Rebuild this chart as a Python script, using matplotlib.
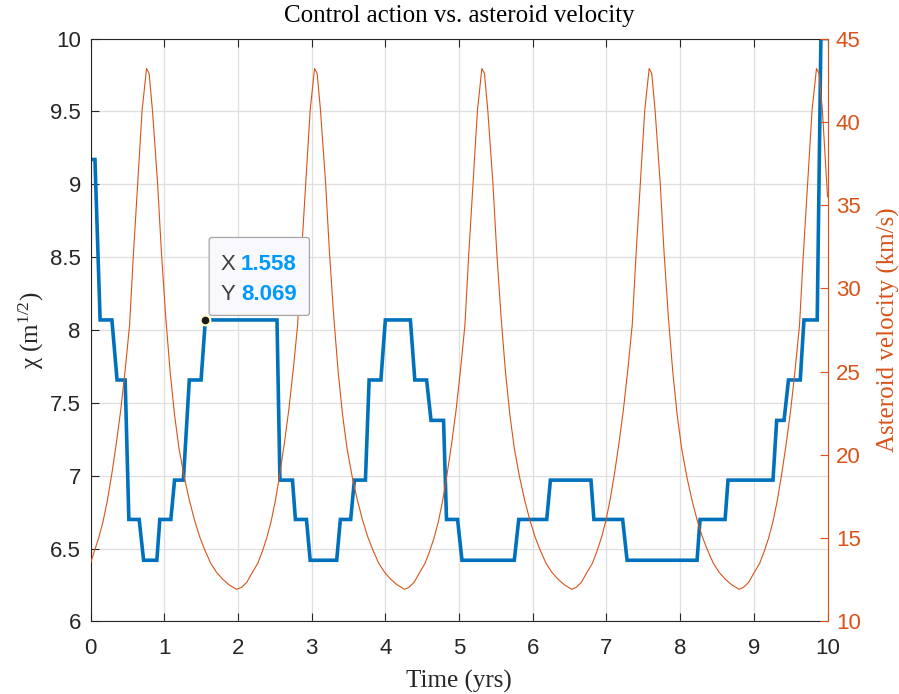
import matplotlib
matplotlib.use('Agg')
import matplotlib.pyplot as plt
from matplotlib.patches import FancyBboxPatch

# control action (blue, left axis)
t_chi = [0.0, 0.06, 0.13, 0.29, 0.36, 0.47, 0.52, 0.66, 0.72, 0.90,
         0.94, 1.09, 1.14, 1.26, 1.34, 1.50, 1.558, 2.53, 2.57, 2.74,
         2.78, 2.93, 2.98, 3.34, 3.39, 3.53, 3.58, 3.73, 3.78, 3.94,
         4.00, 4.34, 4.40, 4.56, 4.62, 4.79, 4.83, 4.98, 5.04, 5.75,
         5.81, 6.19, 6.24, 6.79, 6.83, 7.22, 7.28, 8.23, 8.27, 8.61,
         8.65, 9.26, 9.31, 9.41, 9.47, 9.63, 9.68, 9.86, 9.91, 10.0]
chi = [9.17, 9.17, 8.069, 8.069, 7.657, 7.657, 6.70, 6.70, 6.42, 6.42,
       6.70, 6.70, 6.97, 6.97, 7.657, 7.657, 8.069, 8.069, 6.97, 6.97,
       6.70, 6.70, 6.42, 6.42, 6.70, 6.70, 6.97, 6.97, 7.657, 7.657,
       8.069, 8.069, 7.657, 7.657, 7.38, 7.38, 6.70, 6.70, 6.42, 6.42,
       6.70, 6.70, 6.97, 6.97, 6.70, 6.70, 6.42, 6.42, 6.70, 6.70,
       6.97, 6.97, 7.38, 7.38, 7.657, 7.657, 8.069, 8.069, 10.0, 10.0]

# asteroid velocity (orange, right axis), km/s
t_vel = [0.00, 0.05, 0.11, 0.17, 0.23, 0.29, 0.35, 0.41, 0.47, 0.53,
         0.58, 0.64, 0.70, 0.76, 0.795, 0.84, 0.91, 0.96, 1.02, 1.08,
         1.14, 1.20, 1.27, 1.34, 1.41, 1.48, 1.55, 1.63, 1.71, 1.79,
         1.88, 1.98,
         2.05, 2.12, 2.19, 2.27, 2.33, 2.39, 2.45, 2.51, 2.57, 2.63,
         2.69, 2.75, 2.81, 2.86, 2.92, 2.98, 3.04, 3.075, 3.12, 3.19,
         3.24, 3.30, 3.36, 3.42, 3.48, 3.55, 3.62, 3.69, 3.76, 3.83,
         3.91, 3.99, 4.07, 4.16, 4.26,
         4.32, 4.39, 4.46, 4.54, 4.60, 4.66, 4.72, 4.78, 4.84, 4.90,
         4.96, 5.02, 5.08, 5.13, 5.19, 5.25, 5.31, 5.345, 5.39, 5.46,
         5.51, 5.57, 5.63, 5.69, 5.75, 5.82, 5.89, 5.96, 6.03, 6.10,
         6.18, 6.26, 6.34, 6.43, 6.53,
         6.59, 6.66, 6.73, 6.81, 6.87, 6.93, 6.99, 7.05, 7.11, 7.17,
         7.23, 7.29, 7.35, 7.40, 7.46, 7.52, 7.58, 7.615, 7.66, 7.73,
         7.78, 7.84, 7.90, 7.96, 8.02, 8.09, 8.16, 8.23, 8.30, 8.37,
         8.45, 8.53, 8.61, 8.70, 8.80,
         8.86, 8.93, 9.00, 9.08, 9.14, 9.20, 9.26, 9.32, 9.38, 9.44,
         9.50, 9.56, 9.62, 9.67, 9.73, 9.79, 9.85, 9.885, 9.93, 10.00]
vel = [13.5, 14.2, 15.0, 16.0, 17.3, 18.9, 20.7, 22.7, 25.1, 27.8,
       31.9, 36.3, 40.7, 43.2, 42.9, 40.7, 36.3, 32.3, 28.3, 25.0,
       22.4, 20.4, 18.7, 17.3, 16.1, 15.1, 14.3, 13.5, 12.95, 12.55,
       12.2, 11.93,
       12.05, 12.35, 12.9, 13.5, 14.2, 15.0, 16.0, 17.3, 18.9, 20.7,
       22.7, 25.1, 27.8, 31.9, 36.3, 40.7, 43.2, 42.9, 40.7, 36.3,
       32.3, 28.3, 25.0, 22.4, 20.4, 18.7, 17.3, 16.1, 15.1, 14.3,
       13.5, 12.95, 12.55, 12.2, 11.93,
       12.05, 12.35, 12.9, 13.5, 14.2, 15.0, 16.0, 17.3, 18.9, 20.7,
       22.7, 25.1, 27.8, 31.9, 36.3, 40.7, 43.2, 42.9, 40.7, 36.3,
       32.3, 28.3, 25.0, 22.4, 20.4, 18.7, 17.3, 16.1, 15.1, 14.3,
       13.5, 12.95, 12.55, 12.2, 11.93,
       12.05, 12.35, 12.9, 13.5, 14.2, 15.0, 16.0, 17.3, 18.9, 20.7,
       22.7, 25.1, 27.8, 31.9, 36.3, 40.7, 43.2, 42.9, 40.7, 36.3,
       32.3, 28.3, 25.0, 22.4, 20.4, 18.7, 17.3, 16.1, 15.1, 14.3,
       13.5, 12.95, 12.55, 12.2, 11.93,
       12.05, 12.35, 12.9, 13.5, 14.2, 15.0, 16.0, 17.3, 18.9, 20.7,
       22.7, 25.1, 27.8, 31.9, 36.3, 40.7, 43.2, 42.9, 40.7, 35.5]

x_ticks = list(range(0, 11))
chi_ticks = [6, 6.5, 7, 7.5, 8, 8.5, 9, 9.5, 10]
vel_ticks = [10, 15, 20, 25, 30, 35, 40, 45]
tip_t, tip_chi = 1.558, 8.069

blue = '#0072BD'
orange = '#D95319'
dark = '#262626'
sans = 'Liberation Sans'
serif = 'Liberation Serif'

plt.rcParams['mathtext.fontset'] = 'custom'
plt.rcParams['mathtext.rm'] = serif
plt.rcParams['mathtext.it'] = serif + ':italic'

fig = plt.figure(figsize=(8.99, 6.94), dpi=100)
ax = fig.add_axes([0.1007, 0.1045, 0.8198, 0.84])
ax2 = ax.twinx()

ax.plot(t_chi, chi, color=blue, lw=2.6, solid_joinstyle='miter')
ax2.plot(t_vel, vel, color=orange, lw=0.8)

ax.set_xlim(0, 10)
ax.set_ylim(6, 10)
ax2.set_ylim(10, 45)
ax.set_xticks(x_ticks)
ax.set_yticks(chi_ticks)
ax.set_yticklabels([f'{v:g}' for v in chi_ticks])
ax2.set_yticks(vel_ticks)

ax.grid(True, color='#dfdfdf', lw=0.9)
ax.set_axisbelow(True)

ax.tick_params(axis='both', direction='in', length=6, width=0.8, colors=dark,
               labelsize=16, top=True, right=False)
ax.tick_params(axis='x', pad=12)
ax.tick_params(axis='y', pad=7)
ax2.tick_params(axis='y', direction='in', length=6, width=0.8, colors=orange,
                labelsize=16, pad=6)
for lab in ax.get_xticklabels() + ax.get_yticklabels() + ax2.get_yticklabels():
    lab.set_fontfamily(sans)

for side in ['left', 'top', 'bottom']:
    ax.spines[side].set_color(dark)
    ax.spines[side].set_linewidth(0.8)
ax.spines['right'].set_visible(False)
for side in ['left', 'top', 'bottom']:
    ax2.spines[side].set_visible(False)
ax2.spines['right'].set_color(orange)
ax2.spines['right'].set_linewidth(0.8)

ax.set_title('Control action vs. asteroid velocity', fontfamily=serif,
             fontsize=18, color='black', pad=12)
ax.set_xlabel('Time (yrs)', fontfamily=serif, fontsize=18, color=dark, labelpad=8)
ax.set_ylabel(r'χ (m$^{1/2}$)', fontfamily=serif, fontsize=18, color=dark, labelpad=3)
ax2.set_ylabel('Asteroid velocity (km/s)', fontfamily=serif, fontsize=18,
               color=orange, labelpad=12)

# datatip, drawn on top of both lines
ax2.plot([tip_t], [tip_chi], 'o', transform=ax.transData, ms=7,
         mfc='#1a1a1a', mec='#fffbd0', mew=1.5, zorder=10)
box = FancyBboxPatch((1.61, 8.10), 1.36, 0.535, transform=ax.transData,
                     boxstyle='round,pad=0,rounding_size=0.04',
                     fc='#f8f8fd', ec='#a6a6a6', lw=0.9, zorder=11,
                     mutation_aspect=0.4)
ax2.add_patch(box)
ax2.text(1.76, 8.45, 'X', transform=ax.transData, fontfamily=sans, fontsize=16,
         color='#404040', va='center', zorder=12)
ax2.text(2.04, 8.45, f'{tip_t:.3f}', transform=ax.transData, fontfamily=sans,
         fontsize=16, fontweight='bold', color='#0099FF', va='center', zorder=12)
ax2.text(1.76, 8.245, 'Y', transform=ax.transData, fontfamily=sans, fontsize=16,
         color='#404040', va='center', zorder=12)
ax2.text(2.04, 8.245, f'{tip_chi:.3f}', transform=ax.transData, fontfamily=sans,
         fontsize=16, fontweight='bold', color='#0099FF', va='center', zorder=12)

fig.savefig('out.png', dpi=100)
